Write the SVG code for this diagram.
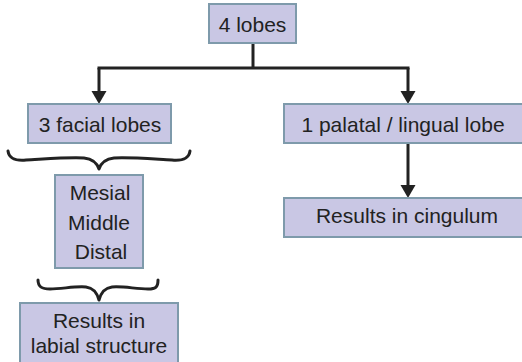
<svg xmlns="http://www.w3.org/2000/svg" width="522" height="362" viewBox="0 0 522 362">
<style>
.box{fill:#c9c7e4;stroke:#7e9aab;stroke-width:2}
.t{font-family:"Liberation Sans",Arial,sans-serif;font-size:21px;fill:#222;text-anchor:middle}
.ln{fill:none;stroke:#222;stroke-width:3}
.ah{fill:#222}
.br{fill:none;stroke:#222;stroke-width:3;stroke-linecap:round;stroke-linejoin:round}
</style>
<g id="connectors">
<path class="ln" d="M253,43 V68"/>
<path class="ln" d="M97.5,68 H409.5"/>
<path class="ln" d="M99,68 V93"/>
<path class="ah" d="M91.5,91 H106.5 L99,104 Z"/>
<path class="ln" d="M408,68 V93"/>
<path class="ah" d="M400.5,91 H415.5 L408,104 Z"/>
<path class="ln" d="M408,143 V187"/>
<path class="ah" d="M400.5,185 H415.5 L408,198 Z"/>
<path class="br" d="M8,151 C9,158 14,161 26,160 C45,159 70,157 84,158 C93,159 97,163 99,169 C101,163 105,159 114,158 C128,157 153,159 172,160 C184,161 189,158 190,151"/>
<path class="br" d="M38,280 C38,287 42,289 50,289 C62,289 75,286 86,287 C94,288 97,293 99,300 C101,293 104,288 112,287 C123,286 136,289 148,289 C156,289 158,287 158,280"/>
</g>
<g id="n_lobes">
<rect class="box" x="209" y="4" width="87" height="39"/>
<text class="t" x="252.5" y="32">4 lobes</text>
</g>
<g id="n_facial">
<rect class="box" x="28" y="104" width="143" height="39"/>
<text class="t" x="100" y="132">3 facial lobes</text>
</g>
<g id="n_palatal">
<rect class="box" x="284" y="104" width="240" height="39"/>
<text class="t" x="403" y="132">1 palatal / lingual lobe</text>
</g>
<g id="n_mmd">
<rect class="box" x="55" y="175" width="88" height="93"/>
<text class="t" x="100" y="200">Mesial</text>
<text class="t" x="99" y="230">Middle</text>
<text class="t" x="101" y="259">Distal</text>
</g>
<g id="n_labial">
<rect class="box" x="20" y="303" width="158" height="62"/>
<text class="t" x="99" y="328">Results in</text>
<text class="t" x="99" y="353">labial structure</text>
</g>
<g id="n_cingulum">
<rect class="box" x="284" y="198" width="240" height="39"/>
<text class="t" x="407" y="223">Results in cingulum</text>
</g>
</svg>
